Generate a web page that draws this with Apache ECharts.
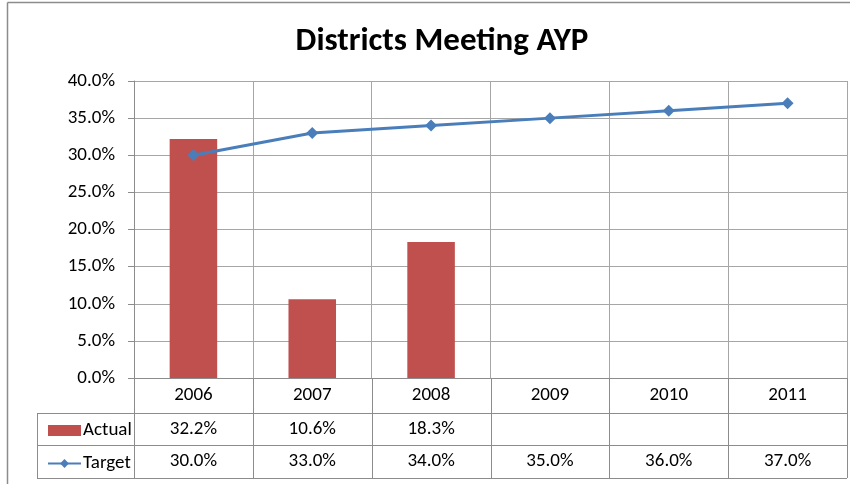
<!DOCTYPE html>
<html>
<head>
<meta charset="utf-8">
<script src="https://cdn.jsdelivr.net/npm/echarts@6/dist/echarts.min.js"></script>
<style>
  html, body { margin: 0; padding: 0; background: #fff; }
  #main { width: 850px; height: 484px; }
</style>
</head>
<body>
<div id="main"></div>
<script>
const years = ['2006', '2007', '2008', '2009', '2010', '2011']
const actual = [32.2, 10.6, 18.3, null, null, null]
const target = [30.0, 33.0, 34.0, 35.0, 36.0, 37.0]
const seriesNames = ['Actual', 'Target']

const font = 'Carlito, "Liberation Sans Narrow", "Open Sans", sans-serif'
const gridColor = '#a6a6a6'
const plotLeft = 134, plotRight = 847, plotTop = 81, plotBottom = 378
const rowLines = [413, 445, 478]
const fs = 19

const fmt = (v) => (v == null ? '' : v.toFixed(1) + '%')

const chart = echarts.init(document.getElementById('main'))

// data table under the plot
const graphics = []
const cellW = (plotRight - plotLeft) / years.length
const lineStyle = { stroke: '#8c8c8c', lineWidth: 1 }
// outer frame of the chart area
graphics.push({ type: 'line', shape: { x1: 7.5, y1: 2.5, x2: 850, y2: 2.5 }, style: { stroke: '#8c8c8c', lineWidth: 1.5 } })
graphics.push({ type: 'line', shape: { x1: 7.5, y1: 2.5, x2: 7.5, y2: 484 }, style: { stroke: '#8c8c8c', lineWidth: 1.5 } })
rowLines.forEach((y) => {
  graphics.push({ type: 'line', shape: { x1: 37, y1: y + 0.5, x2: plotRight, y2: y + 0.5 }, style: lineStyle })
})
graphics.push({ type: 'line', shape: { x1: 37.5, y1: rowLines[0], x2: 37.5, y2: rowLines[2] }, style: lineStyle })
for (let i = 0; i <= years.length; i++) {
  const x = Math.round(plotLeft + i * cellW) + 0.5
  graphics.push({ type: 'line', shape: { x1: x, y1: plotBottom, x2: x, y2: rowLines[2] }, style: lineStyle })
}
;[actual, target].forEach((arr, r) => {
  const cy = (rowLines[r] + rowLines[r + 1]) / 2
  arr.forEach((v, i) => {
    graphics.push({
      type: 'text',
      x: plotLeft + (i + 0.5) * cellW,
      y: cy,
      style: { text: fmt(v), font: fs + 'px ' + font, fill: '#000', align: 'center', verticalAlign: 'middle' }
    })
  })
})

const option = {
  animation: false,
  title: {
    text: 'Districts Meeting AYP',
    left: 437,
    top: 20,
    textAlign: 'center',
    textStyle: { fontFamily: font, fontSize: 33, fontWeight: 'bold', color: '#000' }
  },
  legend: {
    orient: 'vertical',
    left: 42,
    top: 416,
    itemGap: 14,
    itemWidth: 33,
    itemHeight: 11,
    textStyle: { fontFamily: font, fontSize: fs, lineHeight: 19, color: '#000', padding: [0, 0, 0, -3] },
    data: [{ name: seriesNames[0], icon: 'rect' }, { name: seriesNames[1] }]
  },
  grid: { left: plotLeft, right: 850 - plotRight, top: plotTop, bottom: 484 - plotBottom, containLabel: false },
  xAxis: {
    type: 'category',
    data: years,
    axisLine: { lineStyle: { color: '#8c8c8c' } },
    axisTick: { show: false },
    splitLine: { show: true, lineStyle: { color: gridColor } },
    axisLabel: { color: '#000', fontFamily: font, fontSize: fs, margin: 8 }
  },
  yAxis: {
    type: 'value',
    min: 0,
    max: 40,
    interval: 5,
    axisLine: { show: true, lineStyle: { color: '#8c8c8c' } },
    axisTick: { show: true, length: 6, lineStyle: { color: '#8c8c8c' } },
    splitLine: { lineStyle: { color: gridColor } },
    axisLabel: { color: '#000', fontFamily: font, fontSize: fs, margin: 19, formatter: (v) => v.toFixed(1) + '%' }
  },
  series: [
    {
      name: seriesNames[0],
      type: 'bar',
      data: actual,
      barWidth: '40%',
      itemStyle: { color: '#c0504d' }
    },
    {
      name: seriesNames[1],
      type: 'line',
      data: target,
      symbol: 'diamond',
      symbolSize: 12,
      lineStyle: { color: '#4a7ebb', width: 3 },
      itemStyle: { color: '#4a7ebb' }
    }
  ],
  graphic: graphics
}

option && chart.setOption(option)

window.addEventListener('resize', function () {
  chart.resize()
})
</script>
</body>
</html>
